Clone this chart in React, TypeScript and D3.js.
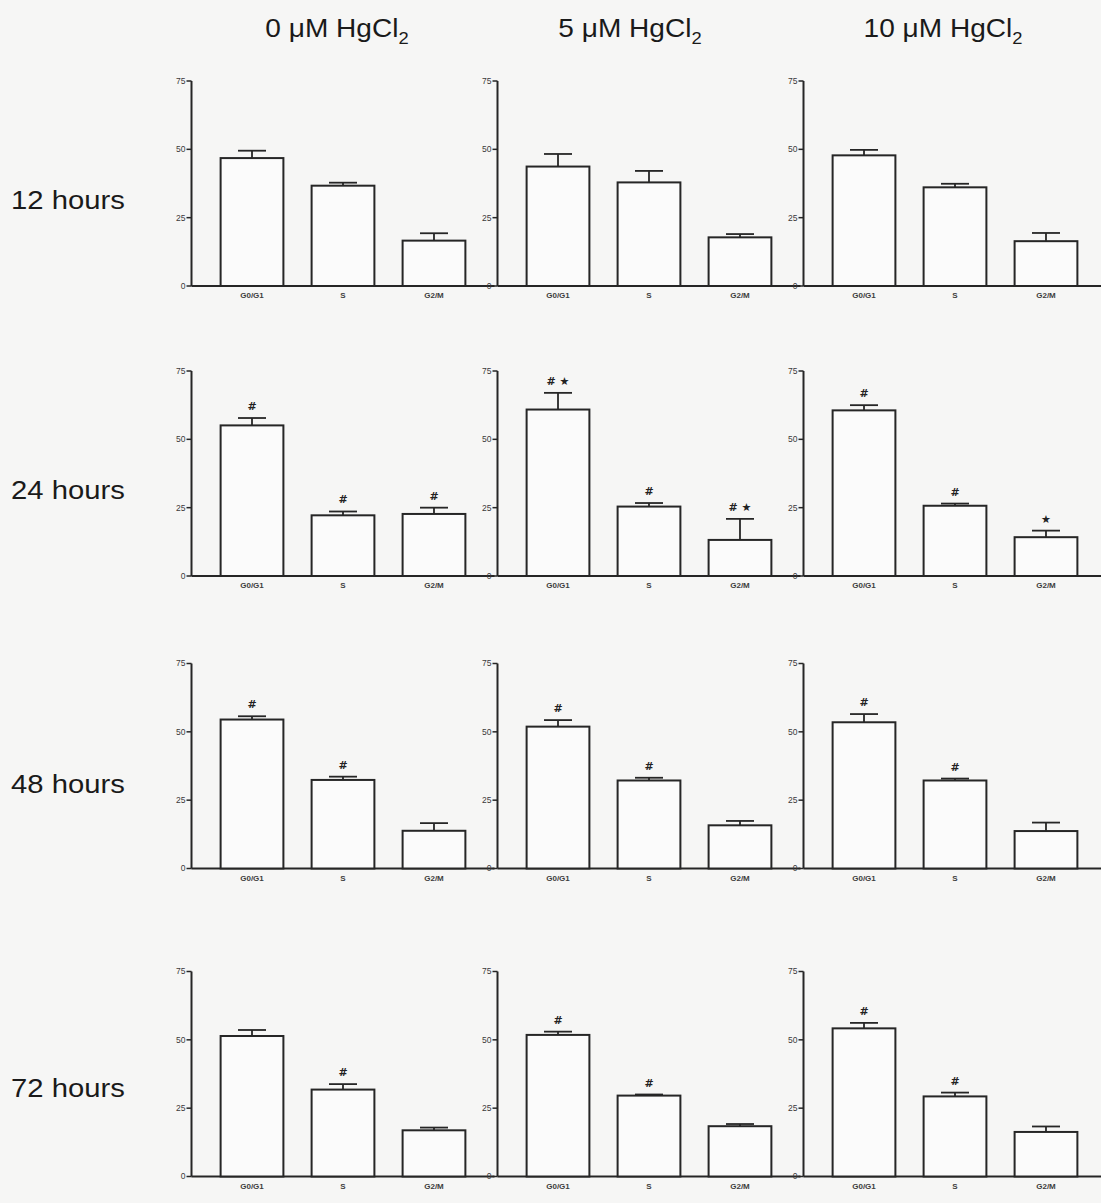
import React from "react";
import * as d3 from "d3";

// Cell-cycle phases on each x axis
const phases = ["G0/G1", "S", "G2/M"];
// Column headers (mercury chloride dose); the subscript 2 is added as a tspan
const doses = ["0 μM HgCl", "5 μM HgCl", "10 μM HgCl"];
// Row labels (exposure time)
const times = ["12 hours", "24 hours", "48 hours", "72 hours"];
const yTicks = [0, 25, 50, 75];

// Mean % of cells per phase, one row per dose column [0, 5, 10 μM]
const mean12h = [[46.8, 36.7, 16.6], [43.7, 37.9, 17.8], [47.8, 36.1, 16.4]];
const sem12h = [[2.7, 1.1, 2.7], [4.6, 4.2, 1.2], [2.0, 1.3, 3.0]];
const mean24h = [[55.1, 22.2, 22.7], [60.9, 25.4, 13.2], [60.6, 25.7, 14.2]];
const sem24h = [[2.7, 1.4, 2.3], [6.1, 1.3, 7.7], [1.9, 0.8, 2.4]];
const mean48h = [[54.5, 32.4, 13.8], [51.9, 32.2, 15.8], [53.5, 32.2, 13.7]];
const sem48h = [[1.2, 1.2, 2.8], [2.4, 1.0, 1.6], [3.0, 0.7, 3.1]];
const mean72h = [[51.4, 31.8, 16.9], [51.8, 29.6, 18.4], [54.2, 29.3, 16.3]];
const sem72h = [[2.2, 2.0, 1.0], [1.2, 0.4, 0.8], [2.0, 1.4, 2.0]];

// Significance marks: # vs time control, ★ vs dose control
const marks12h = [["", "", ""], ["", "", ""], ["", "", ""]];
const marks24h = [["#", "#", "#"], ["# ★", "#", "# ★"], ["#", "#", "★"]];
const marks48h = [["#", "#", ""], ["#", "#", ""], ["#", "#", ""]];
const marks72h = [["", "#", ""], ["#", "#", ""], ["#", "#", ""]];

const means = [mean12h, mean24h, mean48h, mean72h];
const sems = [sem12h, sem24h, sem48h, sem72h];
const marks = [marks12h, marks24h, marks48h, marks72h];

// Layout
const W = 1101;
const H = 1203;
const colX = [191.5, 497.5, 803.5];
const rowZero = [286, 576, 868.5, 1176.5];
const plotW = 303;
const plotH = 205;
const headerX = [337, 630, 943];
const rowLabelBaseline = [209, 499, 793, 1097];
const ink = "#262626";
const font = "'Liberation Sans', Arial, Helvetica, sans-serif";

const x = d3.scaleBand<string>().domain(phases).range([0, plotW]).paddingInner(0.31).paddingOuter(0.32);
const y = d3.scaleLinear().domain([0, 75]).range([plotH, 0]);

function Panel({ ri, ci }: { ri: number; ci: number }) {
  const m = means[ri][ci];
  const s = sems[ri][ci];
  const mk = marks[ri][ci];
  const bw = x.bandwidth();
  const capW = 28;
  return (
    <g transform={`translate(${colX[ci]},${rowZero[ri] - plotH})`}>
      {/* y axis */}
      <line x1={0} x2={0} y1={y(75)} y2={y(0)} stroke={ink} strokeWidth={2} />
      {yTicks.map((t) => (
        <g key={t} transform={`translate(0,${y(t)})`}>
          <line x1={-5} x2={0} stroke={ink} strokeWidth={1.5} />
          <text x={-6} dy="0.35em" textAnchor="end" fontSize={8.5} fill="#3a3a3a" fontFamily={font}>
            {t}
          </text>
        </g>
      ))}
      {/* x axis */}
      <line x1={0} x2={plotW} y1={y(0)} y2={y(0)} stroke={ink} strokeWidth={2} />
      {phases.map((p, i) => {
        const bx = x(p) as number;
        const cx = bx + bw / 2;
        const top = y(m[i]);
        const capY = y(m[i] + s[i]);
        return (
          <g key={p}>
            <rect x={bx} y={top} width={bw} height={y(0) - top} fill="#fbfbfb" stroke={ink} strokeWidth={2} />
            <line x1={cx} x2={cx} y1={top} y2={capY} stroke={ink} strokeWidth={1.8} />
            <line x1={cx - capW / 2} x2={cx + capW / 2} y1={capY} y2={capY} stroke={ink} strokeWidth={1.8} />
            {mk[i] && (
              <text
                x={cx}
                y={capY - 8}
                textAnchor="middle"
                fontSize={11}
                fontWeight="bold"
                fill="#222"
                fontFamily="'DejaVu Sans', sans-serif"
              >
                {mk[i]}
              </text>
            )}
            <text
              x={cx}
              y={y(0) + 12}
              textAnchor="middle"
              fontSize={8}
              fontWeight="bold"
              fill="#3d3d3d"
              fontFamily={font}
            >
              {p}
            </text>
          </g>
        );
      })}
    </g>
  );
}

export default function App() {
  return (
    <svg
      width={W}
      height={H}
      viewBox={`0 0 ${W} ${H}`}
      style={{ position: "absolute", left: 0, top: 0, display: "block" }}
    >
      <rect width={W} height={H} fill="#f6f6f5" />
      {doses.map((d, ci) => (
        <text
          key={d}
          transform={`translate(${headerX[ci]},37) scale(1.08,1)`}
          textAnchor="middle"
          fontSize={26}
          fill="#1a1a1a"
          fontFamily={font}
        >
          {d}
          <tspan fontSize={17} dy={7}>2</tspan>
        </text>
      ))}
      {times.map((t, ri) => (
        <text
          key={t}
          transform={`translate(11,${rowLabelBaseline[ri]}) scale(1.17,1)`}
          fontSize={25}
          fill="#1a1a1a"
          fontFamily={font}
        >
          {t}
        </text>
      ))}
      {times.map((t, ri) =>
        doses.map((d, ci) => <Panel key={`${ri}-${ci}`} ri={ri} ci={ci} />)
      )}
    </svg>
  );
}
